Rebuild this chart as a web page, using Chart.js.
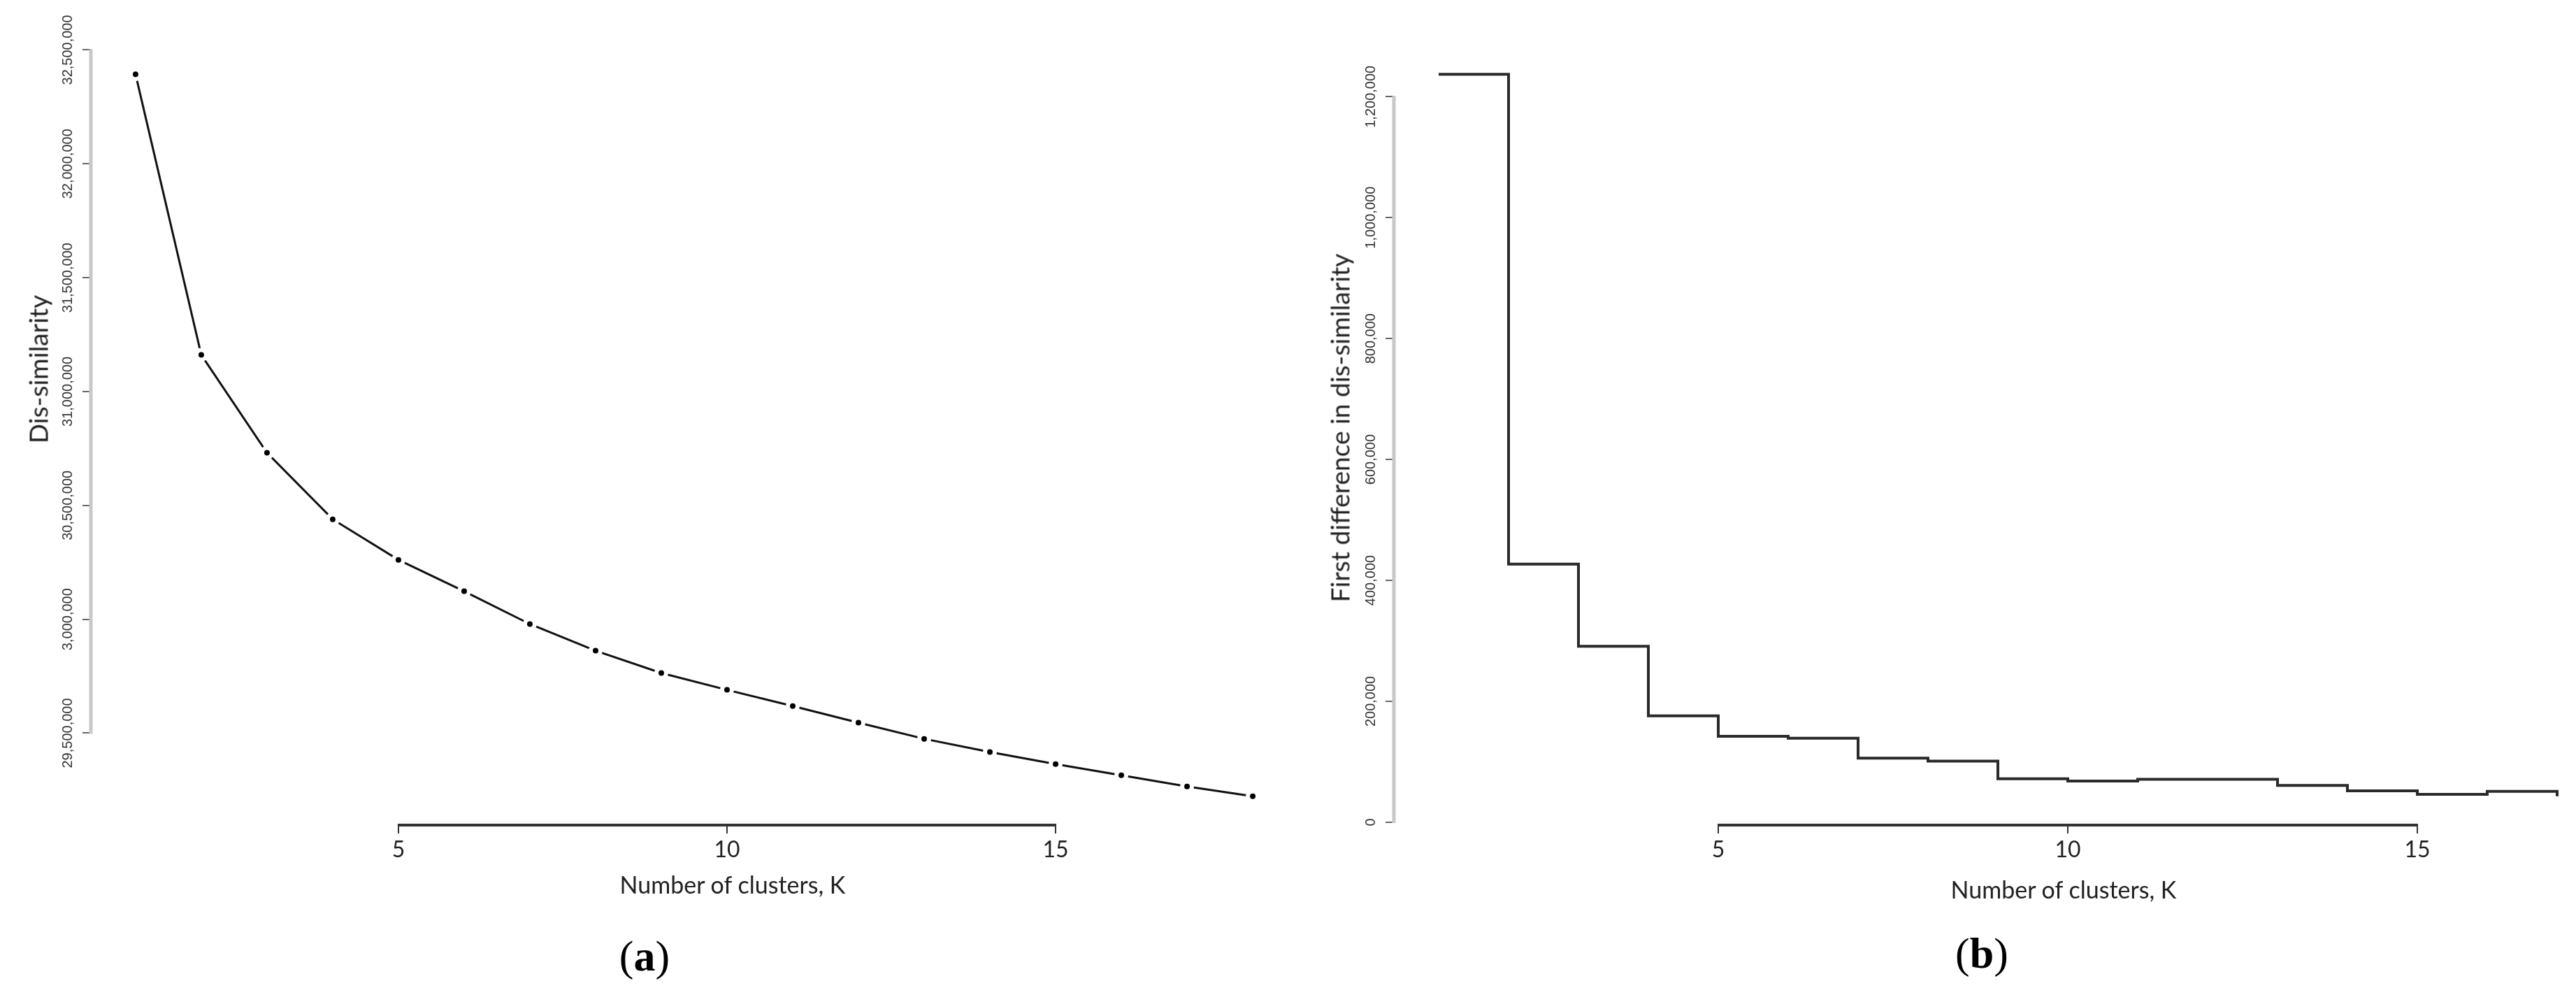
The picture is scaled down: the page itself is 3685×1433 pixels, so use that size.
<!DOCTYPE html>
<html>
<head>
<meta charset="utf-8">
<script src="https://cdn.jsdelivr.net/npm/chart.js@4.4.1/dist/chart.umd.min.js"></script>
<style>
  html, body { margin: 0; padding: 0; background: #fff; overflow: hidden; }
  body { position: relative; width: 3685px; height: 1433px; font-family: Lato, "Open Sans", sans-serif; color: #222; }
  .panel { position: absolute; top: 0; }
  .lbl { position: absolute; white-space: nowrap; transform: translate(-50%, -50%); }
  .ytitle { font-size: 37px; transform: translate(-50%, -50%) rotate(-90deg); }
  .xtitle { font-size: 34px; }
  .cap { font-family: "Liberation Serif", "DejaVu Serif", serif; font-size: 62px; color: #000; }
</style>
</head>
<body>
<div class="panel" style="left:0px"><canvas id="chartA" width="1870" height="1433"></canvas></div>
<div class="panel" style="left:1880px"><canvas id="chartB" width="1880" height="1433"></canvas></div>

<div class="lbl ytitle" style="left:54px; top:528px">Dis-similarity</div>
<div class="lbl xtitle" style="left:1048px; top:1264px">Number of clusters, K</div>
<div class="lbl cap" style="left:922px; top:1367px">(<b>a</b>)</div>

<div class="lbl ytitle" style="left:1916px; top:612px">First difference in dis-similarity</div>
<div class="lbl xtitle" style="left:2952px; top:1271px">Number of clusters, K</div>
<div class="lbl cap" style="left:2835px; top:1363px">(<b>b</b>)</div>

<script>
// (a) dis-similarity by number of clusters
const clustersA = [1, 2, 3, 4, 5, 6, 7, 8, 9, 10, 11, 12, 13, 14, 15, 16, 17, 18];
const dissimilarity = [32393000, 31161000, 30731000, 30439000, 30261000, 30123000, 29979000, 29862000, 29764000,
                       29690000, 29619000, 29546000, 29475000, 29417000, 29364000, 29315000, 29266000, 29223000];
const yTicksA = [29500000, 30000000, 30500000, 31000000, 31500000, 32000000, 32500000];
const yLabelsA = ['29,500,000', '3,000,000', '30,500,000', '31,000,000', '31,500,000', '32,000,000', '32,500,000'];

// (b) first difference
const clustersB = [1, 2, 3, 4, 5, 6, 7, 8, 9, 10, 11, 12, 13, 14, 15, 16, 17];
const firstDiff = [1237000, 427000, 291000, 176000, 142000, 139000, 106000, 101000, 72000,
                   68000, 71000, 71000, 61000, 52000, 46000, 51000, 43000];
const yTicksB = [0, 200000, 400000, 600000, 800000, 1000000, 1200000];
const yLabelsB = ['0', '200,000', '400,000', '600,000', '800,000', '1,000,000', '1,200,000'];

const xTicks = [5, 10, 15];

Chart.defaults.font.family = 'Lato, "Open Sans", sans-serif';
Chart.defaults.color = '#222';

// R-like range: data range padded by 4% each side
function pad(arr) {
  const lo = Math.min(...arr), hi = Math.max(...arr), d = (hi - lo) * 0.04;
  return { min: lo - d, max: hi + d };
}

// axis lines only between first and last tick, rotated y labels
const rAxes = {
  id: 'rAxes',
  afterDraw(chart, args, opts) {
    const { ctx, chartArea } = chart;
    const x = chart.scales.x, y = chart.scales.y;
    const yt = y.ticks, xt = x.ticks;
    ctx.save();
    ctx.strokeStyle = '#c8c8c8';
    ctx.lineWidth = 5;
    ctx.beginPath();
    ctx.moveTo(chartArea.left, y.getPixelForValue(yt[0].value) + 1);
    ctx.lineTo(chartArea.left, y.getPixelForValue(yt[yt.length - 1].value) - 1);
    ctx.stroke();

    ctx.strokeStyle = '#333';
    ctx.lineWidth = 4;
    ctx.beginPath();
    ctx.moveTo(x.getPixelForValue(xt[0].value) - 1, chartArea.bottom);
    ctx.lineTo(x.getPixelForValue(xt[xt.length - 1].value) + 1, chartArea.bottom);
    ctx.stroke();

    ctx.font = '20px "Liberation Sans", Arial, sans-serif';
    ctx.fillStyle = '#333';
    ctx.textAlign = 'center';
    ctx.textBaseline = 'middle';
    yt.forEach((t, i) => {
      ctx.save();
      ctx.translate(chartArea.left - 33, y.getPixelForValue(t.value));
      ctx.rotate(-Math.PI / 2);
      ctx.fillText(opts.labels[i], 0, 0);
      ctx.restore();
    });
    ctx.restore();
  }
};

function makeChart(id, xs, ys, yTicks, yLabels, axisW, padRight, dataset) {
  const xr = pad(xs), yr = pad(ys);
  return new Chart(document.getElementById(id), {
    type: 'line',
    data: {
      datasets: [Object.assign({ data: xs.map((k, i) => ({ x: k, y: ys[i] })) }, dataset)]
    },
    options: {
      responsive: false,
      devicePixelRatio: 1,
      animation: false,
      layout: { padding: { top: 65, right: padRight, left: 0, bottom: 0 } },
      plugins: { legend: { display: false }, tooltip: { enabled: false }, rAxes: { labels: yLabels } },
      scales: {
        x: {
          type: 'linear', min: xr.min, max: xr.max,
          afterBuildTicks: s => { s.ticks = xTicks.map(v => ({ value: v })); },
          afterFit: s => { s.height = 253; },
          grid: { drawOnChartArea: false, drawTicks: true, tickLength: 12, color: '#333', lineWidth: 2 },
          border: { display: false },
          ticks: { font: { size: 32 }, color: '#222', padding: 4, maxRotation: 0, autoSkip: false }
        },
        y: {
          type: 'linear', min: yr.min, max: yr.max,
          afterBuildTicks: s => { s.ticks = yTicks.map(v => ({ value: v })); },
          afterFit: s => { s.width = axisW; },
          grid: { drawOnChartArea: false, drawTicks: true, tickLength: 12, color: '#666', lineWidth: 2 },
          border: { display: false },
          ticks: { display: false }
        }
      }
    },
    plugins: [rAxes]
  });
}

makeChart('chartA', clustersA, dissimilarity, yTicksA, yLabelsA, 130, 14, {
  borderColor: '#111', borderWidth: 3, tension: 0,
  pointRadius: 7, pointBackgroundColor: '#000', pointBorderColor: '#fff', pointBorderWidth: 6
});

// horizontal first, then vertical (like R type = "s")
makeChart('chartB', clustersB, firstDiff, yTicksB, yLabelsB, 114, 38, {
  borderColor: '#2a2a2a', borderWidth: 4, stepped: 'before', pointRadius: 0
});
</script>
</body>
</html>
